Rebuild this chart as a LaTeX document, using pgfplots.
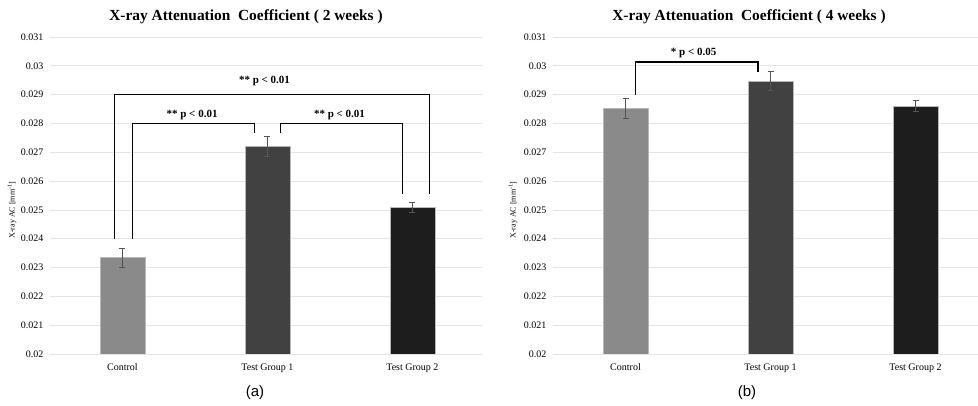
\documentclass[border=0pt]{standalone}
\usepackage{fontspec}
\setmainfont{Liberation Serif}
\newfontfamily\arialf{Liberation Sans}
\usepackage{pgfplots}
\pgfplotsset{compat=1.18}
\definecolor{cA}{HTML}{8A8A8A}
\definecolor{cB}{HTML}{414141}
\definecolor{cC}{HTML}{1D1D1D}
\definecolor{gridc}{HTML}{E4E4E4}
\definecolor{edgec}{HTML}{B8B8B8}
\definecolor{errc}{HTML}{555555}
\tikzset{
  ann/.style={font=\fontsize{11}{13}\selectfont\bfseries},
  brk/.style={line width=1.2pt, black},
}
\pgfplotsset{
  mystyle/.style={
    scale only axis, height=317pt,
    ymin=0.02, ymax=0.031,
    ytick={0.02,0.021,0.022,0.023,0.024,0.025,0.026,0.027,0.028,0.029,0.03,0.031},
    scaled y ticks=false,
    yticklabel style={/pgf/number format/fixed, /pgf/number format/precision=3, /pgf/number format/assume math mode=true, font=\fontsize{10}{11}\selectfont, xshift=-3pt},
    xtick={0,1,2}, xticklabels={Control, Test Group 1, Test Group 2},
    xticklabel style={font=\fontsize{10}{11}\selectfont, yshift=-6pt},
    axis line style={draw=none}, major tick length=0pt,
    ymajorgrids, grid style={color=gridc, line width=0.8pt},
    ybar, bar width=45pt, bar shift=0pt,
    every axis plot/.append style={draw=edgec, line width=0.5pt},
    error bars/error bar style={line width=0.6pt, color=errc},
    error bars/error mark options={rotate=90, mark size=3pt, line width=0.6pt, color=errc},
  },
}
\begin{document}
\begin{tikzpicture}[x=1pt,y=1pt]
\useasboundingbox (0,0) rectangle (978,406);
% ---------- (a) ----------
\begin{axis}[mystyle, at={(50pt,52pt)}, anchor=south west, width=432pt, xmin=-0.5, xmax=2.48]
\addplot[fill=cA, error bars/.cd, y dir=both, y explicit] coordinates {(0,0.02334) +- (0,0.00033)};
\addplot[fill=cB, error bars/.cd, y dir=both, y explicit] coordinates {(1,0.02720) +- (0,0.00035)};
\addplot[fill=cC, error bars/.cd, y dir=both, y explicit] coordinates {(2,0.02510) +- (0,0.00018)};
\draw[brk] (axis cs:-0.055,0.0240) -- (axis cs:-0.055,0.0290) -- (axis cs:2.117,0.0290) -- (axis cs:2.117,0.02555);
\draw[brk] (axis cs:0.067,0.0240) -- (axis cs:0.067,0.0280) -- (axis cs:0.910,0.0280) -- (axis cs:0.910,0.02766);
\draw[brk] (axis cs:1.090,0.02766) -- (axis cs:1.090,0.0280) -- (axis cs:1.931,0.0280) -- (axis cs:1.931,0.02555);
\node[ann] at (axis cs:0.98,0.02947) {** p < 0.01};
\node[ann] at (axis cs:0.48,0.02829) {** p < 0.01};
\node[ann] at (axis cs:1.497,0.02829) {** p < 0.01};
\end{axis}
% ---------- (b) ----------
\begin{axis}[mystyle, at={(553pt,52pt)}, anchor=south west, width=425pt, xmin=-0.5, xmax=2.431]
\addplot[fill=cA, error bars/.cd, y dir=both, y explicit] coordinates {(0,0.02852) +- (0,0.00034)};
\addplot[fill=cB, error bars/.cd, y dir=both, y explicit] coordinates {(1,0.02948) +- (0,0.00034)};
\addplot[fill=cC, error bars/.cd, y dir=both, y explicit] coordinates {(2,0.02861) +- (0,0.00018)};
\draw[brk] (axis cs:0.07,0.02899) -- (axis cs:0.07,0.03013) -- (axis cs:0.914,0.03013) -- (axis cs:0.914,0.02979);
\node[ann] at (axis cs:0.47,0.03044) {* p < 0.05};
\end{axis}
% titles and labels
\node[font=\fontsize{15.4}{17}\selectfont\bfseries] at (246,389) {X-ray Attenuation~ Coefficient ( 2 weeks )};
\node[font=\fontsize{15.4}{17}\selectfont\bfseries] at (749,389) {X-ray Attenuation~ Coefficient ( 4 weeks )};
\node[rotate=90, font=\fontsize{8}{9}\selectfont] at (12,196) {X-ray AC [mm\textsuperscript{-1}]};
\node[rotate=90, font=\fontsize{8}{9}\selectfont] at (513,196) {X-ray AC [mm\textsuperscript{-1}]};
\node[font=\arialf\fontsize{15}{17}\selectfont] at (255,13) {(a)};
\node[font=\arialf\fontsize{15}{17}\selectfont] at (747,13) {(b)};
\end{tikzpicture}
\end{document}
